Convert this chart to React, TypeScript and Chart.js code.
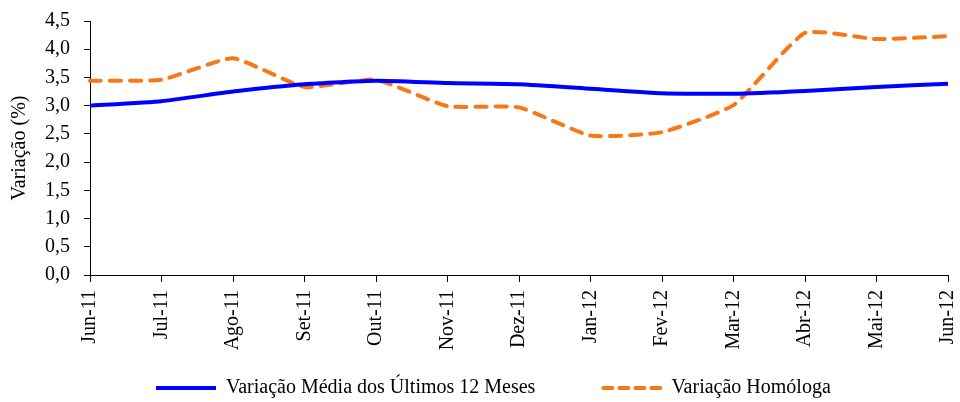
import React, { useEffect, useRef } from "react";
import { Chart, registerables } from "chart.js";

Chart.register(...registerables);

const categories = ["Jun-11", "Jul-11", "Ago-11", "Set-11", "Out-11", "Nov-11", "Dez-11", "Jan-12", "Fev-12", "Mar-12", "Abr-12", "Mai-12", "Jun-12"];
const mediaUltimos12 = [3.0, 3.08, 3.25, 3.38, 3.44, 3.4, 3.38, 3.3, 3.22, 3.21, 3.26, 3.33, 3.39];
const homologa = [3.44, 3.46, 3.84, 3.33, 3.46, 2.99, 2.97, 2.47, 2.53, 3.01, 4.29, 4.18, 4.23];
const seriesNames = ["Variação Média dos Últimos 12 Meses", "Variação Homóloga"];
const yTitle = "Variação (%)";

const FONT = "'Liberation Serif', 'Times New Roman', serif";

const legendPlugin = {
  id: "customLegend",
  afterDraw(chart: any) {
    const ctx = chart.ctx;
    const y = 388;
    let x = 156;
    ctx.save();
    ctx.font = `20px ${FONT}`;
    ctx.textBaseline = "middle";
    ctx.textAlign = "left";
    chart.data.datasets.forEach((ds: any) => {
      ctx.beginPath();
      ctx.strokeStyle = ds.borderColor;
      ctx.lineWidth = ds.borderWidth;
      ctx.lineCap = ds.borderCapStyle || "butt";
      ctx.setLineDash(ds.borderDash ? [9, 7] : []);
      const x0 = ds.borderDash ? x + 2 : x;
      ctx.moveTo(x0, y);
      ctx.lineTo(x + 60, y);
      ctx.stroke();
      ctx.setLineDash([]);
      ctx.fillStyle = "#000";
      ctx.fillText(ds.label, x + 70, y);
      x += 70 + ctx.measureText(ds.label).width + 66;
    });
    ctx.restore();
  },
};

export default function App() {
  const ref = useRef<HTMLCanvasElement>(null);
  useEffect(() => {
    document.body.style.margin = "0";
    const chart = new Chart(ref.current!, {
      type: "line",
      data: {
        labels: categories,
        datasets: [
          {
            label: seriesNames[0],
            data: mediaUltimos12,
            borderColor: "#0000FF",
            backgroundColor: "#0000FF",
            borderWidth: 4,
            pointRadius: 0,
            tension: 0.15,
            borderCapStyle: "butt",
          },
          {
            label: seriesNames[1],
            data: homologa,
            borderColor: "#F97816",
            backgroundColor: "#F97816",
            borderWidth: 4,
            pointRadius: 0,
            tension: 0.15,
            borderDash: [11, 9],
            borderCapStyle: "round",
          },
        ],
      },
      options: {
        animation: false,
        responsive: false,
        maintainAspectRatio: false,
        layout: { padding: { top: 21, right: 12, bottom: 35, left: 0 } },
        plugins: {
          legend: { display: false },
          tooltip: { enabled: false },
        },
        scales: {
          x: {
            offset: false,
            grid: { display: true, drawOnChartArea: false, drawTicks: true, tickLength: 7, color: "#000" },
            border: { display: true, color: "#000", width: 1 },
            ticks: {
              autoSkip: false,
              minRotation: 90,
              maxRotation: 90,
              padding: 8,
              color: "#000",
              font: { family: FONT, size: 20 },
            },
            afterFit: (scale: any) => {
              scale.height = 92;
              scale.paddingLeft = 0;
              scale.paddingRight = 0;
            },
          },
          y: {
            min: 0,
            max: 4.5,
            grid: { display: true, drawOnChartArea: false, drawTicks: true, tickLength: 6, color: "#000" },
            border: { display: true, color: "#000", width: 1 },
            ticks: {
              stepSize: 0.5,
              padding: 14,
              color: "#000",
              font: { family: FONT, size: 20 },
              callback: (v: any) => Number(v).toFixed(1).replace(".", ","),
            },
            title: {
              display: true,
              text: yTitle,
              color: "#000",
              font: { family: FONT, size: 20 },
              padding: { top: 8, bottom: 0 },
            },
            afterFit: (scale: any) => {
              scale.width = 90;
              scale.paddingTop = 0;
              scale.paddingBottom = 0;
            },
          },
        },
      },
      plugins: [legendPlugin],
    });
    return () => chart.destroy();
  }, []);
  return (
    <div style={{ width: 960, height: 402, background: "#fff" }}>
      <canvas ref={ref} width={960} height={402} style={{ display: "block" }} />
    </div>
  );
}
